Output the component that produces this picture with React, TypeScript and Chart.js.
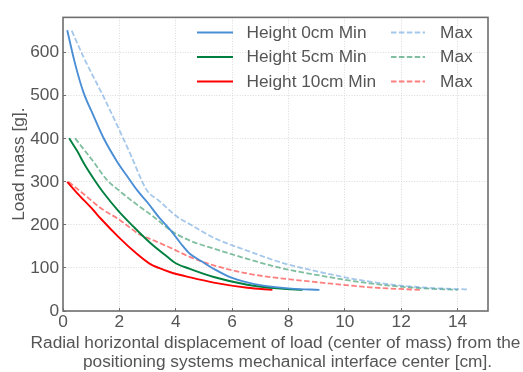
import React, { useEffect, useRef } from "react";
import { Chart, registerables } from "chart.js";

Chart.register(...registerables);

// ---- data ----
const X_H0_MIN = [0.15, 0.43, 0.72, 1.08, 1.43, 1.91, 2.32, 2.65, 3.0, 3.4, 3.85, 4.2, 4.5, 4.9, 5.4, 5.95, 6.5, 7.1, 8.1, 9.1];
const Y_H0_MIN = [652, 574, 509, 454, 403, 348, 309, 279, 252, 218, 185, 155, 133, 116, 96, 78, 67, 59, 52, 49];

const X_H5_MIN = [0.22, 0.5, 0.75, 1.14, 1.41, 1.97, 2.5, 3.1, 3.7, 4.0, 4.5, 5.35, 6.54, 7.72, 8.5];
const Y_H5_MIN = [401, 372, 342, 302, 277, 232, 196, 158, 126, 111, 98, 79, 61, 52, 49];

const X_H10_MIN = [0.15, 0.5, 1.08, 1.32, 2.0, 2.62, 3.1, 3.4, 3.81, 4.52, 5.35, 6.54, 7.43];
const Y_H10_MIN = [300, 274, 234, 216, 170, 133, 109, 100, 90, 78, 66, 54, 49];

const X_H0_MAX = [0.31, 0.75, 1.45, 2.03, 2.44, 2.8, 3.0, 3.39, 4.05, 4.52, 5.35, 6.54, 7.72, 9.15, 10.9, 12.7, 14.0, 14.37];
const Y_H0_MAX = [651, 587, 496, 416, 357, 302, 278, 257, 219, 201, 170, 140, 113, 90, 68, 55, 51, 50];

const X_H5_MAX = [0.43, 1.1, 1.55, 1.95, 2.5, 3.21, 3.87, 4.52, 5.35, 6.54, 7.72, 9.15, 10.9, 12.7, 14.0];
const Y_H5_MAX = [401, 345, 305, 282, 253, 219, 185, 163, 145, 121, 100, 82, 64, 53, 49];

const X_H10_MAX = [0.2, 0.8, 1.32, 2.0, 2.74, 3.0, 3.81, 4.52, 5.35, 6.54, 7.72, 9.15, 10.9, 12.7];
const Y_H10_MAX = [300, 268, 240, 212, 177, 170, 147, 125, 106, 87, 76, 66, 55, 49];

const MIN_LABELS = ["Height 0cm Min", "Height 5cm Min", "Height 10cm Min"];
const MAX_LABEL = "Max";
const X_TITLE = [
  "Radial horizontal displacement of load (center of mass) from the",
  "     positioning systems mechanical interface center [cm].",
];
const Y_TITLE = "Load mass [g].";
const X_MAX = 15.08;
const Y_MAX = 682;

// ---- styles ----
const FONT = "'Liberation Sans', Arial, Helvetica, sans-serif";
const FS = 17.3;
const TEXT = "#555555";
const AXIS = "#6f6f6f";
const GRID = "#d2d2d2";
const COLORS = ["#4a8fd6", "#008040", "#ff0000"];
const LIGHT = ["rgba(74,143,214,0.5)", "rgba(0,128,64,0.5)", "rgba(255,0,0,0.5)"];
const DASH = [5.5, 2.4];

const pts = (xs: number[], ys: number[]) => xs.map((x, i) => ({ x, y: ys[i] }));

const boxPlugin = {
  id: "boxFrame",
  afterDatasetsDraw(chart: any) {
    const { ctx, chartArea: a } = chart;
    ctx.save();
    ctx.strokeStyle = AXIS;
    ctx.lineWidth = 1.6;
    ctx.strokeRect(a.left, a.top, a.right - a.left, a.bottom - a.top);
    ctx.restore();
  },
};

// x-axis title drawn without Chart.js's maxWidth squeeze
const xTitlePlugin = {
  id: "xTitle",
  afterDraw(chart: any) {
    const { ctx, chartArea: a } = chart;
    const cx = (a.left + a.right) / 2;
    ctx.save();
    ctx.font = `${FS}px ${FONT}`;
    ctx.fillStyle = TEXT;
    ctx.textAlign = "center";
    ctx.textBaseline = "middle";
    X_TITLE.forEach((line, i) => {
      ctx.fillText(line, cx, a.bottom + 32.5 + i * 18.4);
    });
    ctx.restore();
  },
};

const legendPlugin = {
  id: "colLegend",
  afterDraw(chart: any) {
    const { ctx } = chart;
    const ds = chart.data.datasets;
    const rows = [32.5, 57, 81.5];
    ctx.save();
    ctx.font = `${FS}px ${FONT}`;
    ctx.textBaseline = "middle";
    ctx.textAlign = "left";
    for (let i = 0; i < 3; i++) {
      const y = rows[i];
      const dMin = ds[i];
      const dMax = ds[i + 3];
      ctx.strokeStyle = dMin.borderColor;
      ctx.lineWidth = dMin.borderWidth;
      ctx.setLineDash([]);
      ctx.beginPath();
      ctx.moveTo(197, y);
      ctx.lineTo(233, y);
      ctx.stroke();
      ctx.fillStyle = TEXT;
      ctx.fillText(dMin.label, 246.5, y + 0.5);

      ctx.strokeStyle = dMax.borderColor;
      ctx.lineWidth = dMax.borderWidth;
      ctx.setLineDash(dMax.borderDash);
      ctx.beginPath();
      ctx.moveTo(391, y);
      ctx.lineTo(425, y);
      ctx.stroke();
      ctx.setLineDash([]);
      ctx.fillText(dMax.label, 440, y + 0.5);
    }
    ctx.restore();
  },
};

export default function App() {
  const ref = useRef<HTMLCanvasElement | null>(null);

  useEffect(() => {
    if (!ref.current) return;
    const series = [
      pts(X_H0_MIN, Y_H0_MIN),
      pts(X_H5_MIN, Y_H5_MIN),
      pts(X_H10_MIN, Y_H10_MIN),
      pts(X_H0_MAX, Y_H0_MAX),
      pts(X_H5_MAX, Y_H5_MAX),
      pts(X_H10_MAX, Y_H10_MAX),
    ];
    const datasets = series.map((data, i) => {
      const isMax = i >= 3;
      const k = i % 3;
      return {
        label: isMax ? MAX_LABEL : MIN_LABELS[k],
        data,
        borderColor: isMax ? LIGHT[k] : COLORS[k],
        backgroundColor: isMax ? LIGHT[k] : COLORS[k],
        borderWidth: isMax ? 1.8 : 1.9,
        borderDash: isMax ? DASH : [],
        pointRadius: 0,
        cubicInterpolationMode: "monotone" as const,
        fill: false,
        order: isMax ? 2 : 1,
      };
    });

    const tickFont = { family: FONT, size: FS };
    const chart = new Chart(ref.current, {
      type: "line",
      data: { datasets },
      options: {
        animation: false,
        responsive: false,
        maintainAspectRatio: false,
        layout: { padding: { top: 11, right: 35, bottom: 0, left: 0 } },
        plugins: { legend: { display: false }, tooltip: { enabled: false } },
        scales: {
          x: {
            type: "linear",
            min: 0,
            max: X_MAX,
            afterFit: (s: any) => {
              s.height = 61;
            },
            ticks: {
              stepSize: 2,
              includeBounds: false,
              color: TEXT,
              font: tickFont,
              padding: 4,
              maxRotation: 0,
            },
            grid: {
              color: GRID,
              lineWidth: 0.8,
              drawTicks: true,
              tickLength: -3,
              tickColor: AXIS,
              tickWidth: 1,
            },
            border: { display: false, dash: [1, 1.6] },
            title: { display: false },
          },
          y: {
            type: "linear",
            min: 0,
            max: Y_MAX,
            afterFit: (s: any) => {
              s.width = 63;
            },
            ticks: {
              stepSize: 100,
              includeBounds: false,
              color: TEXT,
              font: tickFont,
              padding: 7,
            },
            grid: {
              color: GRID,
              lineWidth: 0.8,
              drawTicks: true,
              tickLength: -3,
              tickColor: AXIS,
              tickWidth: 1,
            },
            border: { display: false, dash: [1, 1.6] },
            title: {
              display: true,
              text: Y_TITLE,
              color: TEXT,
              font: { family: FONT, size: FS, lineHeight: 1.2 },
              padding: { top: 9, bottom: 0 },
            },
          },
        },
      },
      plugins: [boxPlugin, xTitlePlugin, legendPlugin],
    });
    return () => chart.destroy();
  }, []);

  return (
    <div style={{ position: "fixed", left: 0, top: 0, width: 523, height: 372, background: "#ffffff" }}>
      <canvas ref={ref} width={523} height={372} style={{ width: 523, height: 372, display: "block" }} />
    </div>
  );
}
